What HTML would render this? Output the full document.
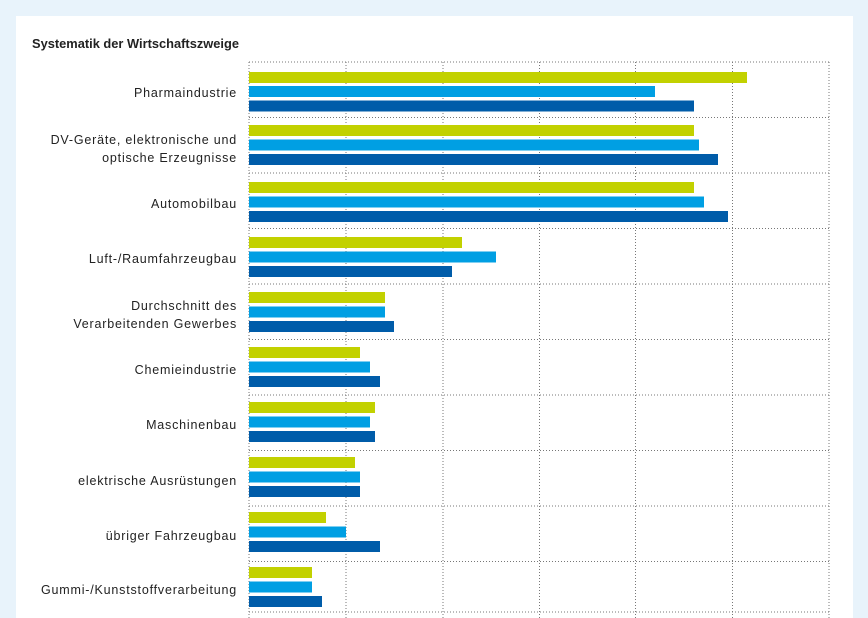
<!DOCTYPE html>
<html><head><meta charset="utf-8"><style>
body{margin:0;width:868px;height:618px;background:#e8f3fb;overflow:hidden;font-family:"Liberation Sans",sans-serif;}
</style></head><body>
<svg width="868" height="618" xmlns="http://www.w3.org/2000/svg" style="position:absolute;left:0;top:0">
<rect x="16" y="16" width="837" height="610" fill="#fff"/>
<text x="32" y="48" font-family="Liberation Sans, sans-serif" font-size="12.5" font-weight="bold" fill="#222" textLength="207" lengthAdjust="spacingAndGlyphs">Systematik der Wirtschaftszweige</text>
<g stroke="#777" stroke-width="1" stroke-dasharray="1,2">
<line x1="249" y1="62" x2="249" y2="618"/><line x1="346" y1="62" x2="346" y2="618"/><line x1="443" y1="62" x2="443" y2="618"/><line x1="539.5" y1="62" x2="539.5" y2="618"/><line x1="635.5" y1="62" x2="635.5" y2="618"/><line x1="732.5" y1="62" x2="732.5" y2="618"/><line x1="829" y1="62" x2="829" y2="618"/>
<line x1="249" y1="62" x2="829" y2="62"/><line x1="249" y1="117.5" x2="829" y2="117.5"/><line x1="249" y1="173" x2="829" y2="173"/><line x1="249" y1="228.5" x2="829" y2="228.5"/><line x1="249" y1="284" x2="829" y2="284"/><line x1="249" y1="339.5" x2="829" y2="339.5"/><line x1="249" y1="395" x2="829" y2="395"/><line x1="249" y1="450.5" x2="829" y2="450.5"/><line x1="249" y1="506" x2="829" y2="506"/><line x1="249" y1="561.5" x2="829" y2="561.5"/><line x1="249" y1="612" x2="829" y2="612"/>
</g>
<g font-family="Liberation Sans, sans-serif" font-size="12.5" fill="#222" text-anchor="end" letter-spacing="0.8">
<text x="237" y="97">Pharmaindustrie</text>
<text x="237" y="144">DV-Geräte, elektronische und</text>
<text x="237" y="162">optische Erzeugnisse</text>
<text x="237" y="208">Automobilbau</text>
<text x="237" y="263">Luft-/Raumfahrzeugbau</text>
<text x="237" y="310">Durchschnitt des</text>
<text x="237" y="328">Verarbeitenden Gewerbes</text>
<text x="237" y="374">Chemieindustrie</text>
<text x="237" y="429">Maschinenbau</text>
<text x="237" y="485">elektrische Ausrüstungen</text>
<text x="237" y="540">übriger Fahrzeugbau</text>
<text x="237" y="594">Gummi-/Kunststoffverarbeitung</text>
</g>
<g>
<rect x="249" y="72" width="498" height="11" fill="#c2d100"/><rect x="249" y="86" width="406" height="11" fill="#009fe3"/><rect x="249" y="100.5" width="445" height="11" fill="#005ca9"/>
<rect x="249" y="125" width="445" height="11" fill="#c2d100"/><rect x="249" y="139.5" width="450" height="11" fill="#009fe3"/><rect x="249" y="154" width="469" height="11" fill="#005ca9"/>
<rect x="249" y="182" width="445" height="11" fill="#c2d100"/><rect x="249" y="196.5" width="455" height="11" fill="#009fe3"/><rect x="249" y="211" width="479" height="11" fill="#005ca9"/>
<rect x="249" y="237" width="213" height="11" fill="#c2d100"/><rect x="249" y="251.5" width="247" height="11" fill="#009fe3"/><rect x="249" y="266" width="203" height="11" fill="#005ca9"/>
<rect x="249" y="292" width="136" height="11" fill="#c2d100"/><rect x="249" y="306.5" width="136" height="11" fill="#009fe3"/><rect x="249" y="321" width="145" height="11" fill="#005ca9"/>
<rect x="249" y="347" width="111" height="11" fill="#c2d100"/><rect x="249" y="361.5" width="121" height="11" fill="#009fe3"/><rect x="249" y="376" width="131" height="11" fill="#005ca9"/>
<rect x="249" y="402" width="126" height="11" fill="#c2d100"/><rect x="249" y="416.5" width="121" height="11" fill="#009fe3"/><rect x="249" y="431" width="126" height="11" fill="#005ca9"/>
<rect x="249" y="457" width="106" height="11" fill="#c2d100"/><rect x="249" y="471.5" width="111" height="11" fill="#009fe3"/><rect x="249" y="486" width="111" height="11" fill="#005ca9"/>
<rect x="249" y="512" width="77" height="11" fill="#c2d100"/><rect x="249" y="526.5" width="97" height="11" fill="#009fe3"/><rect x="249" y="541" width="131" height="11" fill="#005ca9"/>
<rect x="249" y="567" width="63" height="11" fill="#c2d100"/><rect x="249" y="581.5" width="63" height="11" fill="#009fe3"/><rect x="249" y="596" width="73" height="11" fill="#005ca9"/>
</g>
</svg>
</body></html>
